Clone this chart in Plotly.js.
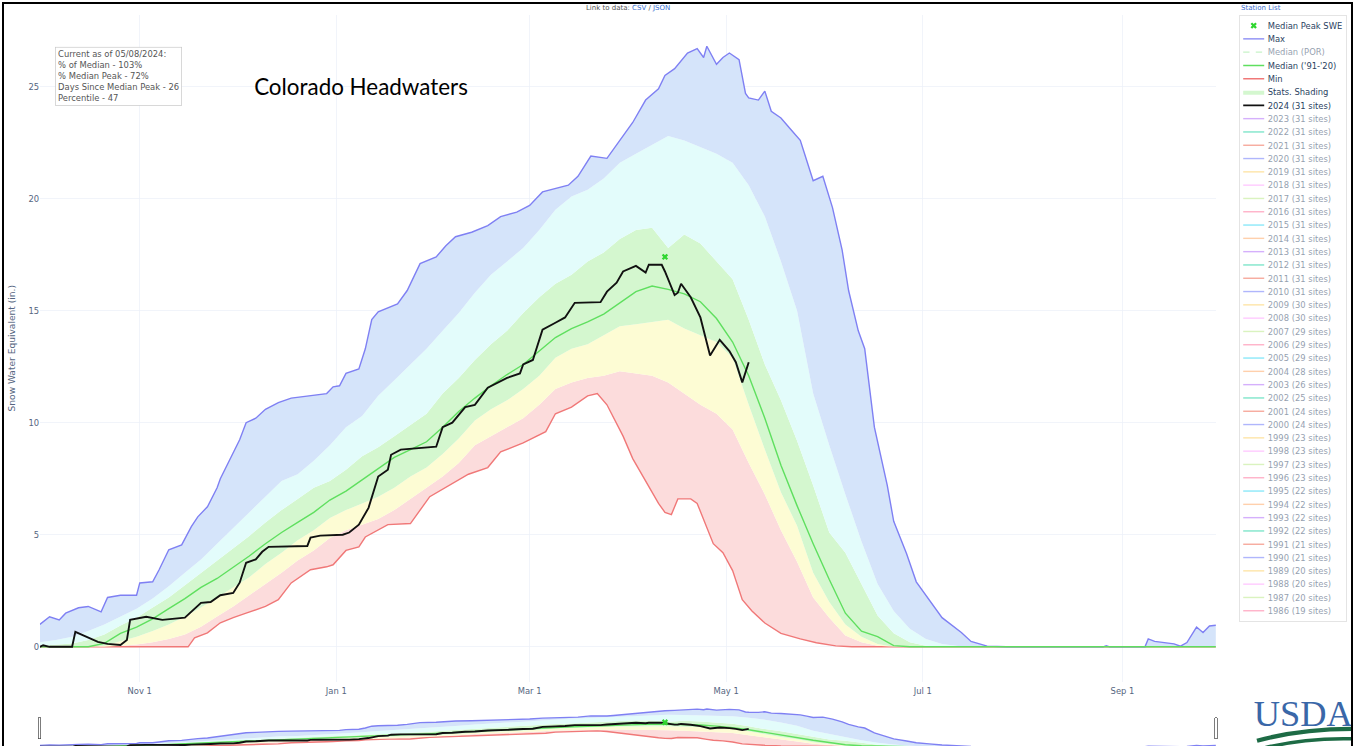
<!DOCTYPE html>
<html>
<head>
<meta charset="utf-8">
<script src="https://cdn.plot.ly/plotly-3.0.1.min.js"></script>
<style>
html,body{margin:0;padding:0;overflow:hidden;background:#fff;width:1356px;height:746px;}
#wrap{position:absolute;left:0;top:0;width:1937px;height:1076px;transform:scale(0.7);transform-origin:0 0;}
#chart{width:1937px;height:1076px;}
#frame{position:absolute;left:2px;top:2px;width:1351px;height:800px;border:2px solid #000;box-sizing:border-box;pointer-events:none;}
</style>
</head>
<body>
<div id="wrap"><div id="chart"></div></div>
<div id="frame"></div>
<script>
// ---------- data (day offsets from Oct 1 of the water year) ----------
const statDays = [0,5,10,15,20,25,30,35,40,45,50,55,60,65,70,75,80,85,90,95,100,105,110,115,120,125,130,135,140,145,150,155,160,165,170,175,180,185,190,195,200,205,210,215,220,225,230,235,240,245,250,255,260,265,270,275,280,285,290,295,300,305,310,315,320,325,330,335,340,345,350,355,360,365];

const p10SWE = [0,0,0,0,0,0.05,0.1,0.2,0.35,0.55,
  0.9,1.35,1.8,2.3,2.8,3.3,3.85,4.3,4.85,5.2,
  5.45,5.7,6.1,6.6,7.1,7.6,8.2,9.0,9.4,9.8,
  10.2,10.8,11.5,11.8,12.0,12.1,12.3,12.2,12.1,11.8,
  11.3,10.8,10.4,9.7,8.2,6.8,5.2,3.8,2.2,1.3,
  0.5,0.2,0.05,0,0,0,0,0,0,0,
  0,0,0,0,0,0,0,0,0,0,
  0,0,0,0];

const p30SWE = [0,0,0,0,0.05,0.25,0.45,0.7,1.0,1.35,
  1.75,2.2,2.65,3.1,3.7,4.2,4.75,5.2,5.75,6.1,
  6.4,6.7,7.1,7.6,8.0,8.6,9.3,10.1,10.6,11.0,
  11.5,12.1,12.9,13.3,13.5,13.9,14.3,14.4,14.5,14.6,
  14.2,13.9,13.6,12.9,10.8,8.8,6.9,5.4,3.3,2.0,
  1.0,0.45,0.12,0,0,0,0,0,0,0,
  0,0,0,0,0,0,0,0,0,0,
  0,0,0,0];

const medianSWE = [0,0,0,0,0.15,0.6,0.88,1.25,1.7,2.15,
  2.65,3.05,3.55,4.05,4.6,5.1,5.55,6.0,6.55,6.95,
  7.45,7.95,8.45,8.8,9.15,9.8,10.5,11.1,11.65,12.15,
  12.6,13.2,13.8,14.2,14.5,14.85,15.35,15.85,16.1,15.95,
  15.75,15.4,14.65,13.6,12.1,10.2,8.1,6.3,4.6,3.0,
  1.5,0.7,0.45,0.05,0,0,0,0,0,0,
  0,0,0,0,0,0,0,0,0,0,
  0,0,0,0];

const p70SWE = [0.05,0.1,0.15,0.3,0.55,0.95,1.3,1.75,2.2,2.75,
  3.3,3.85,4.4,4.95,5.55,6.1,6.6,7.1,7.4,7.9,
  8.5,8.9,9.4,9.9,10.4,11.3,12.0,12.8,13.5,14.1,
  14.9,15.6,16.2,16.6,17.2,17.6,18.2,18.6,18.7,17.8,
  18.4,18.0,17.2,16.4,14.6,12.6,11.0,9.2,7.2,5.1,
  4.2,2.8,1.4,0.6,0.2,0.05,0,0,0,0,
  0,0,0,0,0,0,0,0,0,0,
  0,0,0,0];

const p90SWE = [0.2,0.3,0.45,0.7,1.0,1.35,1.7,2.15,2.7,3.3,
  3.9,4.6,5.3,6.0,6.7,7.4,7.7,8.3,9.0,9.8,
  10.3,11.2,11.9,12.6,13.3,14.1,14.9,15.8,16.6,17.2,
  17.8,18.6,19.5,20.1,20.4,20.9,21.6,22.0,22.4,22.8,
  22.6,22.3,22.0,21.6,20.6,19.2,17.2,15.0,11.3,9.0,
  6.8,4.7,2.8,1.6,0.8,0.35,0.12,0.03,0,0,
  0,0,0,0,0,0,0,0,0,0,
  0,0,0,0];

const minDays = [0,46,48,52,56,60,64,70,74,78,84,89,91,95,99,101,108,115,121,127,133,139,143,150,157,160,165,170,173,176,181,184,188,192,194,196,198,202,204,207,209,212,215,218,221,225,230,236,241,247,252,365];
const minSWE = [0,0,0.4,0.62,1.07,1.3,1.5,1.8,2.1,2.85,3.44,3.57,3.66,4.3,4.46,4.9,5.45,5.5,6.7,7.2,7.7,8.0,8.7,9.1,9.6,10.4,10.7,11.2,11.3,10.8,9.4,8.4,7.4,6.4,6.0,5.9,6.6,6.6,6.4,5.3,4.6,4.2,3.4,2.1,1.6,1.06,0.6,0.35,0.18,0.04,0,0];

const maxDays = [0,3,6,8,12,15,19,21,25,30,31,35,37,40,44,47,49,52,55,56,60,62,64,67,70,74,78,83,89,91,93,95,99,101,103,105,111,114,118,123,126,129,134,139,143,148,152,156,164,167,171,176,178,184,188,192,194,197,201,204,206,207,210,212,214,217,219,220,223,225,227,230,233,236,238,240,243,246,249,251,254,256,259,263,265,269,272,276,280,286,289,294,300,330,331,332,343,344,346,352,354,356,359,361,363,365];
const maxSWE = [1.0,1.34,1.2,1.5,1.74,1.8,1.56,2.2,2.3,2.3,2.85,2.9,3.44,4.33,4.55,5.36,5.8,6.25,7.1,7.5,8.66,9.24,10.0,10.2,10.6,10.9,11.1,11.2,11.3,11.6,11.65,12.2,12.4,13.3,14.6,14.95,15.3,15.9,17.1,17.4,17.9,18.3,18.5,18.8,19.2,19.4,19.7,20.3,20.6,21.0,21.9,21.8,22.2,23.4,24.4,24.9,25.5,25.8,26.5,26.7,26.3,26.8,26.0,26.3,26.5,26.2,24.7,24.5,24.4,24.8,23.9,23.6,23.1,22.6,21.7,20.8,21.0,19.6,17.7,15.9,14.1,13.3,9.8,7.2,5.6,4.15,2.9,2.1,1.3,0.64,0.24,0.03,0,0,0.05,0,0,0.35,0.24,0.13,0.03,0.19,0.88,0.64,0.93,0.96];

const wy2024Days = [0,1,3,10,11,15,18,21,25,27,28,33,38,45,47,50,53,56,60,62,64,67,69,71,83,84,87,94,96,99,102,105,108,109,112,123,125,128,132,135,139,145,149,150,153,156,160,163,166,174,176,179,181,185,188,189,193,194,197,198,199,202,205,208,211,214,216,218,220];
const wy2024SWE = [0,0.07,0,0,0.67,0.4,0.22,0.13,0.08,0.3,1.2,1.34,1.2,1.3,1.56,1.96,2.0,2.3,2.4,2.86,3.75,3.9,4.24,4.46,4.5,4.87,4.96,5.0,5.1,5.45,6.2,7.6,7.9,8.57,8.8,8.93,9.8,10.0,10.7,10.8,11.56,12.0,12.2,12.6,12.8,14.15,14.46,14.7,15.35,15.38,15.85,16.25,16.75,17.0,16.7,17.05,17.05,16.75,15.7,15.8,16.2,15.6,14.7,13.0,13.7,13.2,12.7,11.8,12.7];

const medianPeakDate = ['2024-04-12'];
const medianPeakSWE = [17.4];

const hiddenYears = [2023,2022,2021,2020,2019,2018,2017,2016,2015,2014,2013,2012,2011,2010,2009,2008,2007,2006,2005,2004,2003,2002,2001,2000,1999,1998,1997,1996,1995,1994,1993,1992,1991,1990,1989,1988,1987,1986];
const hiddenSites = [31,31,31,31,31,31,31,31,31,31,31,31,31,31,30,30,29,29,29,28,26,25,24,24,23,23,23,23,22,22,22,22,21,21,20,20,20,19];
const yearColors = ['#ab63fa','#00cc96','#EF553B','#636efa','#FECB52','#FF97FF','#B6E880','#FF6692','#19d3f3','#FFA15A'];

const xTickStart = '2023-11-01';
const xRange = ['2023-10-01','2024-09-30'];
const yRange = [-1.5625, 28.21];

// ---------- helpers ----------
const BASE = Date.UTC(2023, 9, 1);
function dayToDate(d){ return new Date(BASE + d*86400000).toISOString().slice(0,10); }
const statDates = statDays.map(dayToDate);
const minDates = minDays.map(dayToDate);
const maxDates = maxDays.map(dayToDate);
const wy2024Dates = wy2024Days.map(dayToDate);

// plot area in un-scaled pixels
const PL = 57, PR = 1737, PT = 21.4, PB = 974.3, S = 0.7;
function px(xImg){ return (xImg/S - PL)/(PR - PL); }
function py(yImg){ return 1 - (yImg/S - PT)/(PB - PT); }

const FONT = 'DejaVu Sans';
const traces = [];

traces.push({x: minDates, y: minSWE, type:'scatter', mode:'lines', name:'Min',
  line:{color:'#f07878', width:2}, legendrank:5, hoverinfo:'skip'});
traces.push({x: statDates, y: p10SWE, type:'scatter', mode:'lines', fill:'tonexty',
  fillcolor:'#fcdcdc', line:{width:0, color:'#fcdcdc'}, showlegend:false, legendgroup:'stats', hoverinfo:'skip'});
traces.push({x: statDates, y: p30SWE, type:'scatter', mode:'lines', fill:'tonexty',
  fillcolor:'#fdfcd4', line:{width:0, color:'#fdfcd4'}, showlegend:false, legendgroup:'stats', hoverinfo:'skip'});
traces.push({x: statDates, y: p70SWE, type:'scatter', mode:'lines', fill:'tonexty',
  fillcolor:'#d4f7cf', line:{width:0, color:'#d4f7cf'}, name:'Stats. Shading', legendgroup:'stats', legendrank:6, hoverinfo:'skip'});
traces.push({x: statDates, y: p90SWE, type:'scatter', mode:'lines', fill:'tonexty',
  fillcolor:'#e3fcfb', line:{width:0, color:'#e3fcfb'}, showlegend:false, legendgroup:'stats', hoverinfo:'skip'});
traces.push({x: maxDates, y: maxSWE, type:'scatter', mode:'lines', fill:'tonexty',
  fillcolor:'#d5e4fa', line:{width:0, color:'#d5e4fa'}, showlegend:false, legendgroup:'stats', hoverinfo:'skip'});
traces.push({x: maxDates, y: maxSWE, type:'scatter', mode:'lines', name:'Max',
  line:{color:'#7f80f3', width:2}, legendrank:2, hoverinfo:'skip'});
traces.push({x: [null], y: [null], type:'scatter', mode:'lines', name:'Median (POR)', visible:'legendonly',
  line:{color:'#90e890', width:2, dash:'dash'}, legendrank:3});
traces.push({x: statDates, y: medianSWE, type:'scatter', mode:'lines', name:"Median ('91-'20)",
  line:{color:'#5fdf5f', width:2}, legendrank:4, hoverinfo:'skip'});
traces.push({x: wy2024Dates, y: wy2024SWE, type:'scatter', mode:'lines', name:'2024 (31 sites)',
  line:{color:'#111', width:2.7}, legendrank:7, hoverinfo:'skip'});
traces.push({x: medianPeakDate, y: medianPeakSWE, type:'scatter', mode:'markers', name:'Median Peak SWE',
  marker:{symbol:'x', size:8, color:'#2fd62f'}, legendrank:1, hoverinfo:'skip'});
hiddenYears.forEach((yr, i) => {
  traces.push({x: [null], y: [null], type:'scatter', mode:'lines', name: yr + ' (' + hiddenSites[i] + ' sites)',
    visible:'legendonly', line:{color: yearColors[i % yearColors.length], width:2}, legendrank: 8 + i});
});

const layout = {
  width: 1937, height: 1076,
  margin: {l: PL, r: 1937 - PR, t: PT, b: 6, autoexpand: true},
  paper_bgcolor: '#fff', plot_bgcolor: '#fff',
  font: {family: FONT, size: 12, color: '#2a3f5f'},
  showlegend: true,
  hovermode: false,
  xaxis: {
    type: 'date', range: xRange, tick0: xTickStart, dtick: 'M2', tickformat: '%b %-d',
    showgrid: true, gridcolor: '#EBF0F8', gridwidth: 1, zeroline: false, showline: false, ticks: '',
    ticklabelstandoff: 5,
    tickfont: {family: FONT, size: 12, color: '#556580'},
    rangeslider: {visible: true, range: xRange, thickness: 0.057, bgcolor: '#fff', borderwidth: 0,
      yaxis: {rangemode: 'match'}}
  },
  yaxis: {
    range: yRange, dtick: 5, tick0: 0, showgrid: true, gridcolor: '#EBF0F8', gridwidth: 1,
    zeroline: true, zerolinecolor: '#EBF0F8', zerolinewidth: 1, showline: false, ticks: '',
    tickfont: {family: FONT, size: 12, color: '#556580'},
    title: {text: 'Snow Water Equivalent (in.)', font: {family: FONT, size: 13, color: '#556580'}}
  },
  legend: {
    x: px(1239), xanchor: 'left', y: 1, yanchor: 'top', bgcolor: '#fff',
    bordercolor: '#d9d9d9', borderwidth: 1, traceorder: 'normal',
    font: {family: FONT, size: 12, color: '#2a3f5f'}
  },
  annotations: [
    {xref:'paper', yref:'paper', x: px(55), y: py(47), xanchor:'left', yanchor:'top', align:'left',
     showarrow:false, bgcolor:'#fff', bordercolor:'#c8c8c8', borderwidth:1, borderpad:3,
     font:{family: FONT, size: 12, color:'#555'},
     text: 'Current as of 05/08/2024:<br>% of Median - 103%<br>% Median Peak - 72%<br>Days Since Median Peak - 26<br>Percentile - 47'},
    {xref:'paper', yref:'paper', x: px(361), y: py(87), xanchor:'center', yanchor:'middle',
     showarrow:false, font:{family:'Lato', size: 32, color:'#000'}, text:'Colorado Headwaters'},
    {xref:'paper', yref:'paper', x: px(628), y: py(8), xanchor:'center', yanchor:'middle',
     showarrow:false, font:{family: FONT, size: 10, color:'#555'},
     text:'Link to data: <span style="color:#3b6fd0">CSV</span> / <span style="color:#3b6fd0">JSON</span>'},
    {xref:'paper', yref:'paper', x: px(1240), y: py(8), xanchor:'left', yanchor:'middle',
     showarrow:false, font:{family: FONT, size: 10, color:'#3b6fd0'}, text:'Station List'},
    {xref:'paper', yref:'paper', x: px(1252), y: py(714), xanchor:'left', yanchor:'middle',
     showarrow:false, font:{family:'Liberation Serif', size: 52, color:'#3a67a8'}, text:'USDA'}
  ],
  shapes: [
    {type:'path', xref:'paper', yref:'paper', layer:'above',
     path: 'M' + px(1257) + ',' + py(741) + ' Q' + px(1300) + ',' + py(729) + ' ' + px(1352) + ',' + py(729),
     line:{color:'#1d6b45', width:6}},
    {type:'path', xref:'paper', yref:'paper', layer:'above',
     path: 'M' + px(1265) + ',' + py(748) + ' Q' + px(1305) + ',' + py(738) + ' ' + px(1352) + ',' + py(739),
     line:{color:'#1d6b45', width:5}}
  ]
};

Plotly.newPlot('chart', traces, layout, {displayModeBar: false, staticPlot: true});
</script>
</body>
</html>
